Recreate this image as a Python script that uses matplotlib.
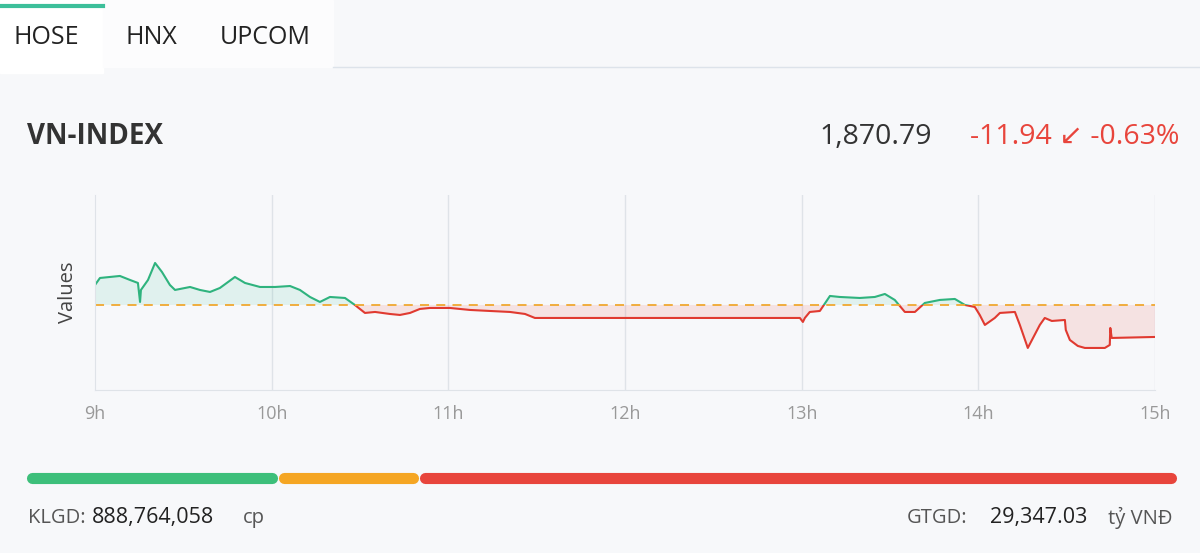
import matplotlib
matplotlib.use("Agg")
import matplotlib.pyplot as plt
from matplotlib.patches import Rectangle
import numpy as np

plt.rcParams['font.family'] = ['Open Sans', 'DejaVu Sans']

times = [9.0,9.028,9.141,9.198,9.243,9.255,9.26,9.3,9.34,9.379,9.424,9.453,9.538,9.594,9.651,9.707,9.792,9.849,9.934,
         10.019,10.104,10.16,10.217,10.273,10.33,10.415,10.471,10.528,10.585,10.669,10.726,10.783,10.839,10.896,
         11.009,11.122,11.235,11.349,11.434,11.49,12.99,13.007,13.018,13.046,13.103,13.16,13.216,13.329,13.414,
         13.471,13.527,13.584,13.641,13.697,13.782,13.867,13.924,13.98,14.008,14.037,14.093,14.122,14.207,14.235,
         14.28,14.348,14.376,14.416,14.49,14.495,14.518,14.563,14.603,14.716,14.744,14.747,14.755,15.0]
values = [1890.19,1892.8,1893.55,1892.06,1890.94,1883.85,1888.33,1892.06,1898.4,1895.04,1890.19,1888.33,1889.44,1888.33,
          1887.58,1889.07,1893.17,1890.94,1889.44,1889.44,1889.8,1888.33,1885.71,1883.85,1885.71,1885.34,1882.73,
          1879.75,1880.12,1879.37,1879.0,1879.75,1881.24,1881.61,1881.61,1880.87,1880.49,1880.12,1879.37,1877.88,
          1877.88,1876.39,1877.88,1880.12,1880.49,1886.09,1885.71,1885.34,1885.71,1886.83,1884.6,1880.12,1880.12,
          1883.48,1884.6,1884.97,1882.73,1881.98,1879.0,1875.27,1877.88,1879.75,1880.12,1875.27,1866.69,1875.27,
          1877.88,1876.76,1877.13,1873.41,1869.68,1867.44,1866.69,1866.69,1867.81,1874.15,1870.42,1870.79]
ref = 1882.73
hour_ticks = [9, 10, 11, 12, 13, 14, 15]
hour_labels = ['9h', '10h', '11h', '12h', '13h', '14h', '15h']
breadth = [0.216, 0.12, 0.657]
breadth_colors = ['#3dbf7a', '#f5a623', '#e8453c']

W, H = 1200, 553
fig = plt.figure(figsize=(12, 5.53), dpi=100)
fig.patch.set_facecolor('#f7f8fa')

def fx(x): return x / W
def fy(y): return 1 - y / H

# tabs
fig.patches.append(Rectangle((0, fy(73)), fx(103), 73 / H, transform=fig.transFigure, color='white', zorder=0))
fig.patches.append(Rectangle((fx(103), fy(67)), fx(230), 67 / H, transform=fig.transFigure, color='#fcfcfd', zorder=0))
fig.add_artist(plt.Line2D([0, fx(103)], [fy(6), fy(6)], color='#3dbf9a', lw=3))
fig.add_artist(plt.Line2D([fx(333), 1], [fy(67), fy(67)], color='#dde3ea', lw=1))
for x, t in [(14, 'HOSE'), (125, 'HNX'), (220, 'UPCOM')]:
    fig.text(fx(x), fy(38), t, fontsize=18, color='#222', va='center')

fig.text(fx(27), fy(137), 'VN-INDEX', fontsize=20, fontweight='bold', color='#333', va='center')
fig.text(fx(932), fy(137), '1,870.79', fontsize=20.5, color='#333', va='center', ha='right')
fig.text(fx(1179), fy(137), '-11.94 ↙ -0.63%', fontsize=20.5, color='#e8453c', va='center', ha='right',
         family=['Open Sans', 'DejaVu Sans'])

ax = fig.add_axes([fx(95), fy(390), fx(1060), 195 / H])
ax.set_facecolor('#f7f8fa')
ax.set_xlim(9, 15)
ax.set_ylim(1851.0, 1923.76)
for s in ['top', 'right']:
    ax.spines[s].set_visible(False)
for s in ['left', 'bottom']:
    ax.spines[s].set_color('#dfe3e8')
for h in hour_ticks[1:]:
    ax.axvline(h, color='#dfe3e8', lw=1, zorder=0)
ax.set_xticks(hour_ticks)
ax.set_xticklabels(hour_labels, color='#999', fontsize=13)
ax.tick_params(axis='x', length=0, pad=11)
ax.set_yticks([])
ax.set_ylabel('Values', fontsize=14.5, color='#444', labelpad=12)

t = np.array(times); v = np.array(values)
ax.fill_between(t, v, ref, where=v >= ref, interpolate=True, color='#3dbf9a', alpha=0.12, lw=0)
ax.fill_between(t, v, ref, where=v <= ref, interpolate=True, color='#e8453c', alpha=0.12, lw=0)
lg, = ax.plot(t, v, color='#2fb37e', lw=1.5)
lr, = ax.plot(t, v, color='#e03a30', lw=1.5)
lg.set_clip_path(Rectangle((9, ref), 6, 100, transform=ax.transData))
lr.set_clip_path(Rectangle((9, ref - 100), 6, 100, transform=ax.transData))
ax.axhline(ref, color='#f0a830', lw=1.3, ls=(0, (5, 4)))

# breadth bar
x0, x1, gap = 28, 1175, 4
total = sum(breadth)
avail = x1 - x0 - gap * (len(breadth) - 1)
cur = x0
for b, c in zip(breadth, breadth_colors):
    w = avail * b / total
    fig.add_artist(plt.Line2D([fx(cur + 4), fx(cur + w - 4)], [fy(478), fy(478)], color=c, lw=8,
                              solid_capstyle='round'))
    cur += w + gap

fig.text(fx(28), fy(518), 'KLGD:', fontsize=14.5, color='#555', va='center')
fig.text(fx(92), fy(518), '888,764,058', fontsize=15.5, color='#222', va='center')
fig.text(fx(243), fy(518), 'cp', fontsize=14.5, color='#555', va='center')
fig.text(fx(907), fy(518), 'GTGD:', fontsize=14.5, color='#555', va='center')
fig.text(fx(990), fy(518), '29,347.03', fontsize=15.5, color='#222', va='center')
fig.text(fx(1172), fy(518), 'tỷ VNĐ', fontsize=14.5, color='#555', va='center', ha='right')

fig.savefig('out.png', dpi=100, facecolor=fig.get_facecolor())
